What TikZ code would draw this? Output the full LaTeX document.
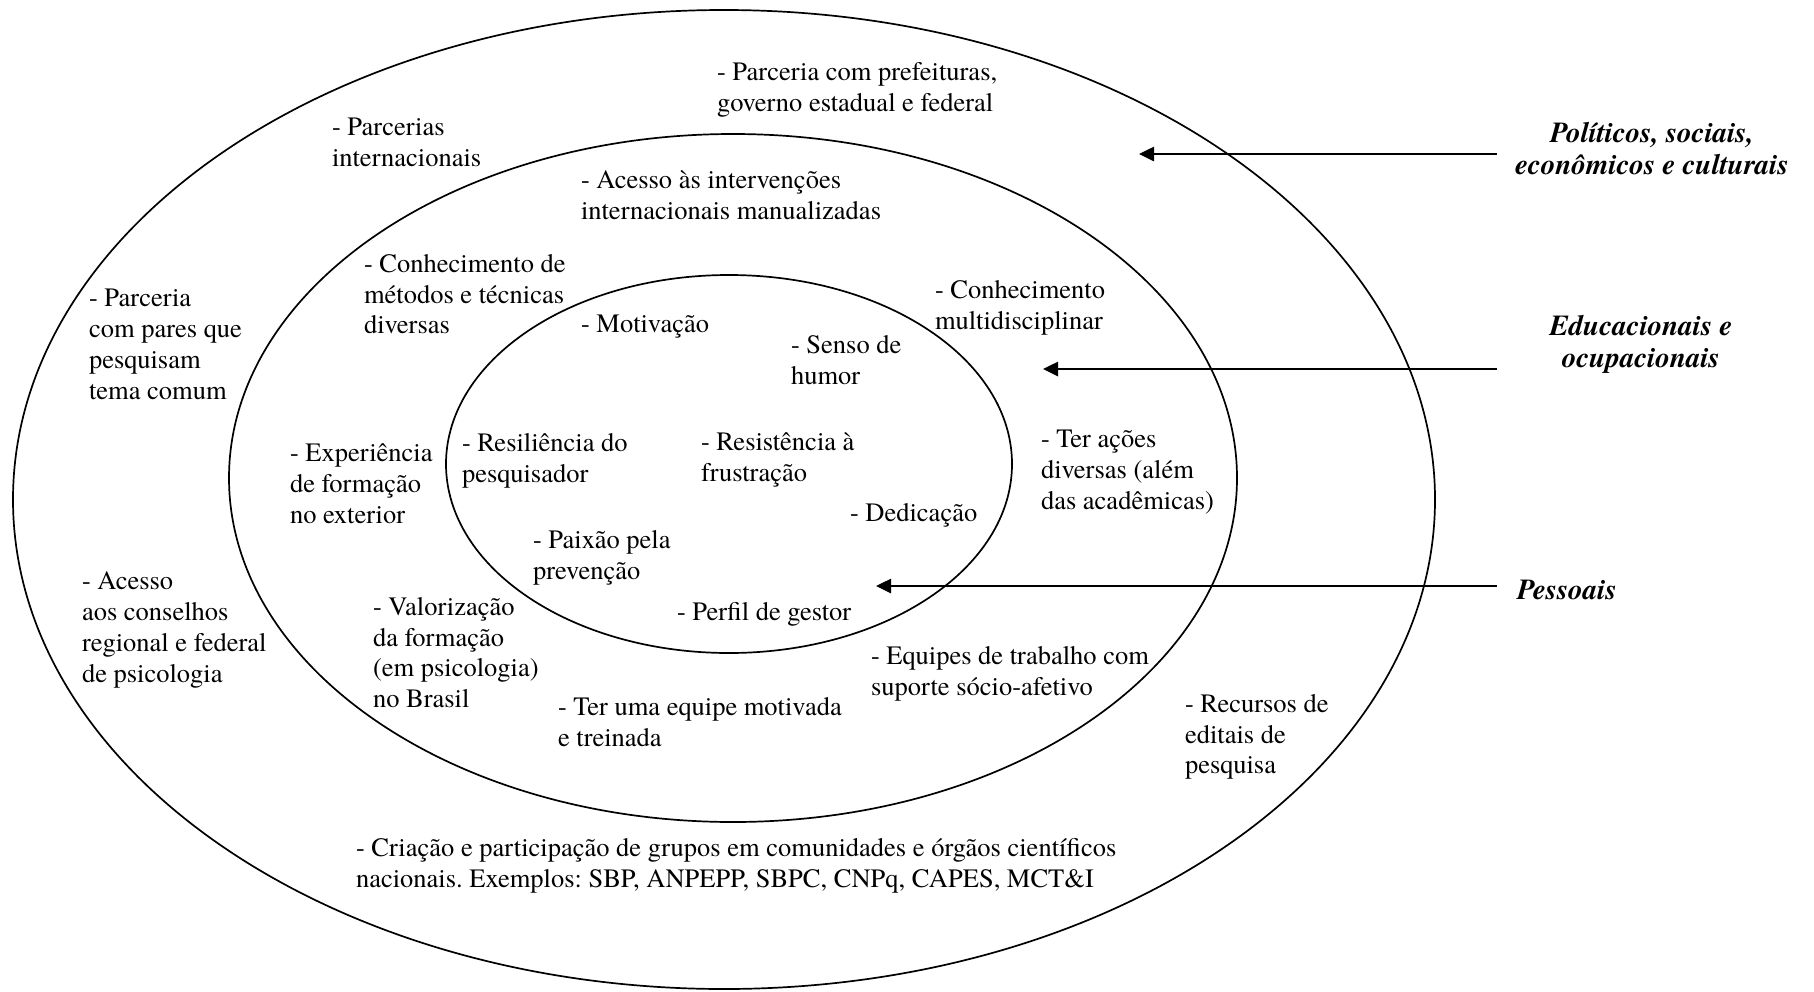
\documentclass[tikz,border=0pt]{standalone}
\usepackage{fontspec}
\setmainfont{TeX Gyre Termes}
\frenchspacing
\usetikzlibrary{arrows.meta,shapes.geometric}
\tikzset{
  ring/.style={draw, ellipse, line width=0.85pt, inner sep=0pt, outer sep=0pt},
  txt/.style={align=left, anchor=north west, inner sep=0pt, outer sep=0pt,
    font=\fontsize{13.25pt}{15.45pt}\selectfont\frenchspacing, execute at begin node=\strut},
  lab/.style={align=center, anchor=north, inner sep=0pt, outer sep=0pt,
    font=\fontsize{14.5pt}{16pt}\selectfont\bfseries\itshape, execute at begin node=\strut},
  arr/.style={line width=1.3pt, -{Triangle[length=7.5pt,width=7pt]}}
}
\begin{document}
\begin{tikzpicture}[x=0.5pt, y=-0.5pt]
\useasboundingbox (0,0) rectangle (1814,991);
% rings
\node[ring, minimum width=711pt, minimum height=489.5pt] (outer) at (724,499.5) {};
\node[ring, minimum width=504pt, minimum height=344pt] (middle) at (733,478) {};
\node[ring, minimum width=283pt, minimum height=189pt] (inner) at (729,464) {};
% texts
\node[txt] (t1) at (717,62) {- Parceria com prefeituras,\\governo estadual e federal};
\node[txt] (t2) at (332,118) {- Parcerias\\internacionais};
\node[txt] (t3) at (581,171) {- Acesso às intervenções\\internacionais manualizadas};
\node[txt] (t4) at (364,254) {- Conhecimento de\\métodos e técnicas\\diversas};
\node[txt] (t5) at (935,280) {- Conhecimento\\multidisciplinar};
\node[txt] (t6) at (89,289) {- Parceria\\com pares que\\pesquisam\\tema comum};
\node[txt] (t7) at (581,311) {- Motivação};
\node[txt] (t8) at (791,335) {- Senso de\\humor};
\node[txt] (t9) at (290,444) {- Experiência\\de formação\\no exterior};
\node[txt] (t10) at (462,433) {- Resiliência do\\pesquisador};
\node[txt] (t11) at (701,433) {- Resistência à\\frustração};
\node[txt] (t12) at (1041,430) {- Ter ações\\diversas (além\\das acadêmicas)};
\node[txt] (t13) at (850,500) {- Dedicação};
\node[txt] (t14) at (533,530) {- Paixão pela\\prevenção};
\node[txt] (t15) at (82,572) {- Acesso\\aos conselhos\\regional e federal\\de psicologia};
\node[txt] (t16) at (373,597) {- Valorização\\da formação\\(em psicologia)\\no Brasil};
\node[txt] (t17) at (677,599) {- Perfil de gestor};
\node[txt] (t18) at (871,646) {- Equipes de trabalho com\\suporte sócio-afetivo};
\node[txt] (t19) at (558,697) {- Ter uma equipe motivada\\e treinada};
\node[txt] (t20) at (1185,694) {- Recursos de\\editais de\\pesquisa};
\node[txt] (t21) at (356,838) {- Criação e participação de grupos em comunidades e órgãos científicos\\nacionais. Exemplos: SBP, ANPEPP, SBPC, CNPq, CAPES, MCT\&I};
% labels
\node[lab] (lpol) at (1652,122) {Políticos, sociais,\\econômicos e culturais};
\node[lab] (ledu) at (1641,315) {Educacionais e\\ocupacionais};
\node[lab, anchor=north west] (lpes) at (1517,577) {Pessoais};
% arrows
\coordinate (rx) at (1497,0);
\coordinate (tpol) at (1139,154);
\coordinate (tedu) at (1043,369);
\coordinate (tpes) at (876,586);
\draw[arr] (tpol -| rx) -- (tpol);
\draw[arr] (tedu -| rx) -- (tedu);
\draw[arr] (tpes -| rx) -- (tpes);
\end{tikzpicture}
\end{document}
